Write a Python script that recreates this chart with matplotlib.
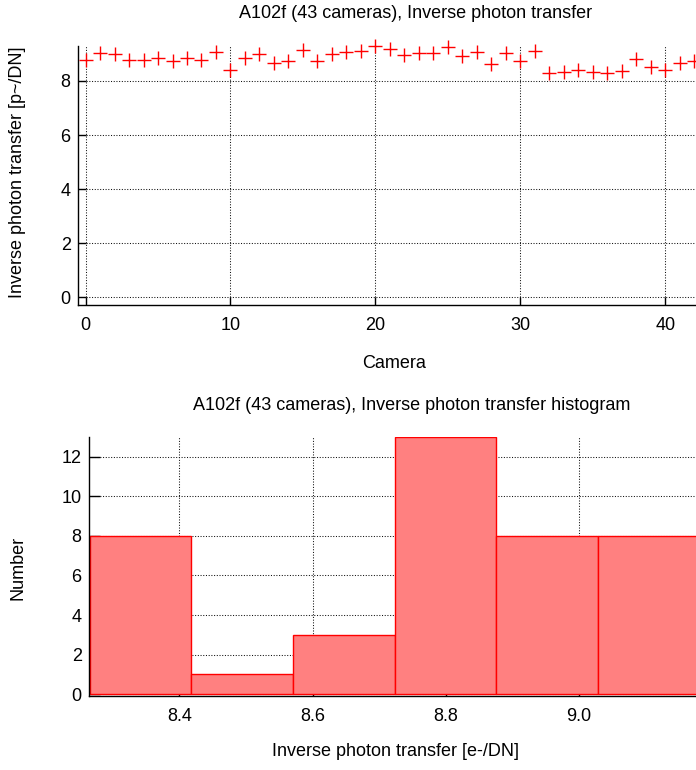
import matplotlib
matplotlib.use("Agg")
import matplotlib.pyplot as plt
import numpy as np

plt.rcParams['font.family'] = ['Liberation Sans', 'DejaVu Sans']
plt.rcParams['font.size'] = 13

title_top = "A102f (43 cameras), Inverse photon transfer"
title_hist = "A102f (43 cameras), Inverse photon transfer histogram"

# inverse photon transfer per camera
cameras = list(range(43))
transfer = [8.76, 9.02, 8.985, 8.79, 8.76, 8.85, 8.74, 8.85, 8.76, 9.07,
            8.39, 8.86, 9.01, 8.68, 8.73, 9.13, 8.74, 8.985, 9.07, 9.11,
            9.29, 9.17, 8.95, 9.02, 9.02, 9.25, 8.92, 9.06, 8.64, 9.04,
            8.74, 9.11, 8.30, 8.33, 8.41, 8.33, 8.31, 8.37, 8.80, 8.52,
            8.39, 8.66, 8.74]

bin_edges = [8.266, 8.418, 8.571, 8.723, 8.876, 9.028, 9.181, 9.333]

top_xticks = [0, 10, 20, 30, 40]
top_yticks = [0, 2, 4, 6, 8]
hist_xticks = [8.4, 8.6, 8.8, 9.0]
hist_xticklabels = ["8.4", "8.6", "8.8", "9.0"]
hist_yticks = [0, 2, 4, 6, 8, 10, 12]

W, H = 696, 770
fig = plt.figure(figsize=(W / 100, H / 100), dpi=100)


def px_axes(left, top, right, bottom):
    return fig.add_axes([left / W, 1 - bottom / H, (right - left) / W, (bottom - top) / H])


def style(ax, xpad, ypad, ticklen):
    ax.spines['top'].set_visible(False)
    ax.spines['right'].set_visible(False)
    for s in ('left', 'bottom'):
        ax.spines[s].set_linewidth(1.0)
    ax.tick_params(direction='in', length=ticklen, width=1.0, colors='black')
    ax.tick_params(axis='x', pad=xpad)
    ax.tick_params(axis='y', pad=ypad)
    ax.grid(True, color='#111111', linewidth=0.75, linestyle=(0, (1, 1.6)))


# top: scatter of values per camera
ax1 = px_axes(78.3, 46, 701.5, 305)
ax1.plot(cameras, transfer, linestyle='none', marker='+', markersize=10,
         markeredgewidth=1.0, color='#ff0000', clip_on=False, zorder=3)
ax1.set_xlim(-0.5, 42.5)
ax1.set_ylim(-0.28, 9.29)
ax1.set_xticks(top_xticks)
ax1.set_yticks(top_yticks)
style(ax1, 9.0, 5.5, 6)

# bottom: histogram
ax2 = px_axes(89, 436.7, 801, 695.7)
ax2.hist(transfer, bins=bin_edges, facecolor='#ff8080', edgecolor='#ff0000',
         linewidth=1.0, zorder=2)
ax2.set_axisbelow(True)
ax2.set_xlim(8.2645, 9.333)
ax2.set_ylim(-0.07, 13)
ax2.set_xticks(hist_xticks)
ax2.set_xticklabels(hist_xticklabels)
ax2.set_yticks(hist_yticks)
style(ax2, 9.0, 5.3, 8)

fig.text(416 / W, 1 - 13 / H, title_top, ha='center', va='center')
fig.text(394 / W, 1 - 363 / H, "Camera", ha='center', va='center')
fig.text(18 / W, 1 - 172 / H, "Inverse photon transfer [p~/DN]", ha='center', va='center', rotation=90)
fig.text(412 / W, 1 - 406 / H, title_hist, ha='center', va='center')
fig.text(395 / W, 1 - 752 / H, "Inverse photon transfer [e-/DN]", ha='center', va='center')
fig.text(18 / W, 1 - 568 / H, "Number", ha='center', va='center', rotation=90)

fig.savefig("out.png", dpi=100)
